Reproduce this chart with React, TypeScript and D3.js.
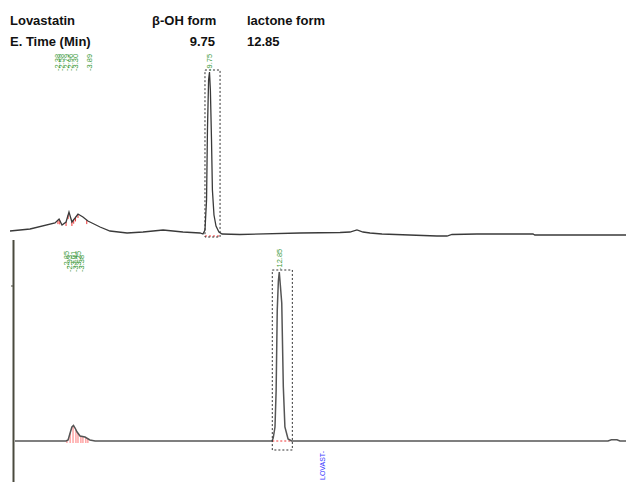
import React from 'react'
import * as d3 from 'd3'

// header table
const headerTitle = 'Lovastatin'
const headerRowLabel = 'E. Time (Min)'
const forms = ['β-OH form', 'lactone form']
const retentionTimes = [9.75, 12.85]

// trace 1 (β-OH form), time in min, signal in arbitrary units
const topTimes = [0.89, 1.78, 2.89, 3.07, 3.2, 3.38, 3.51, 3.64, 3.78, 3.91, 4.13, 4.35, 4.53, 4.89, 5.33, 6.09, 6.8, 7.69, 8.57, 9.33, 9.46, 9.55, 9.62, 9.66, 9.71, 9.75, 9.79, 9.84, 9.88, 9.95, 10.04, 10.17, 10.31, 11.1, 13.77, 15.55, 15.99, 16.3, 16.57, 16.88, 17.41, 19.85, 20.3, 20.52, 21.63, 24.12, 24.2, 28.25]
const topSignal = [5, 7, 13, 17, 11, 14, 24, 14, 18, 22, 19, 15, 13, 9, 5, 3, 4, 6, 4, 3, 2, 6, 36, 106, 156, 164, 146, 96, 46, 21, 10, 4, 2, 1.5, 3, 3.5, 4, 6, 4, 3, 2, 0, 0, 1.5, 2, 2, 1, 1]

// trace 2 (lactone form)
const bottomTimes = [1.11, 3.38, 3.47, 3.56, 3.64, 3.71, 3.78, 3.87, 4.0, 4.22, 4.44, 4.67, 12.53, 12.58, 12.66, 12.71, 12.76, 12.81, 12.85, 12.9, 12.96, 13.03, 13.1, 13.24, 13.4, 26.65, 27.45, 27.6, 27.85, 27.98, 28.25]
const bottomSignal = [0, 0, 1, 8, 14, 15.5, 13, 9, 5, 4, 1, 0, 0, 3, 14, 50, 131, 160, 169, 155, 138, 54, 14, 2, 0, 0, 0, 1.2, 1.2, 0, 0]

// integrated peak windows
const topWindow = [9.55, 10.22]
const bottomWindow = [12.54, 13.43]

// small peak labels
const topLabelTimes = [2.98, 3.16, 3.38, 3.56, 3.82, 4.4]
const topLabels = ['2.38', '2.58', '2.79', '2.96', '3.30', '3.89']
const bottomLabelTimes = [3.42, 3.55, 3.69, 3.82, 3.95, 4.08]
const bottomLabels = ['2.85', '2.93', '3.01', '3.14', '3.25', '3.38']
const topTickTimes = [3.02, 3.1, 3.38, 3.47, 3.64, 3.72, 3.8, 3.91, 4.3]
const bottomHatchTimes = [3.42, 3.56, 3.69, 3.82, 3.91, 4.04, 4.13, 4.26, 4.35]
const compoundLabel = 'LOVAST-'
const compoundTime = 14.79

const W = 626
const H = 482
const green = '#3a9a3a'

export default function App() {
  const x = d3.scaleLinear().domain([0.89, 28.25]).range([10, 626])
  const yTop = d3.scaleLinear().domain([0, 164]).range([236, 72])
  const yBot = d3.scaleLinear().domain([0, 169]).range([441, 272])

  const topPts: [number, number][] = topTimes.map((t, i) => [t, topSignal[i]])
  const botPts: [number, number][] = bottomTimes.map((t, i) => [t, bottomSignal[i]])
  const topLine = d3.line<[number, number]>().x(d => x(d[0])).y(d => yTop(d[1]))
  const botLine = d3.line<[number, number]>().x(d => x(d[0])).y(d => yBot(d[1]))
  const topAt = (t: number) => d3.scaleLinear().domain(topTimes).range(topSignal)(t)
  const botAt = (t: number) => d3.scaleLinear().domain(bottomTimes).range(bottomSignal)(t)

  const fontHead = '"Liberation Sans", Arial, sans-serif'
  const small = '"Liberation Sans", Arial, sans-serif'

  return (
    <svg width={W} height={H} style={{ position: 'absolute', left: 0, top: 0, background: '#fff' }}>
      {/* header */}
      <g fontFamily={fontHead} fontWeight="bold" fontSize={13} fill="#111">
        <text x={10} y={25}>{headerTitle}</text>
        <text x={10} y={46}>{headerRowLabel}</text>
        <text x={152} y={25}>{forms[0]}</text>
        <text x={247} y={25}>{forms[1]}</text>
        <text x={215} y={46} textAnchor="end">{retentionTimes[0].toFixed(2)}</text>
        <text x={247} y={46}>{retentionTimes[1].toFixed(2)}</text>
      </g>

      {/* top chromatogram */}
      <line x1={x(topWindow[0])} x2={x(topWindow[1])} y1={yTop(0)} y2={yTop(0)} stroke="#e33" strokeDasharray="2,2" strokeWidth={1} />
      {topTickTimes.map((t, i) => (
        <line key={i} x1={x(t)} x2={x(t)} y1={yTop(topAt(t))} y2={yTop(topAt(t)) + 4} stroke="#e33" strokeWidth={1} />
      ))}
      <path d={topLine(topPts) || ''} fill="none" stroke="#3a3a3a" strokeWidth={1.3} />
      <rect x={x(topWindow[0])} y={yTop(d3.max(topSignal)!) - 2} width={x(topWindow[1]) - x(topWindow[0])}
        height={yTop(0) - yTop(d3.max(topSignal)!) + 3} fill="none" stroke="#333" strokeDasharray="2,2" strokeWidth={1} />
      <g fontFamily={small} fontSize={7.5} fill={green}>
        {topLabelTimes.map((t, i) => (
          <text key={i} transform={`translate(${x(t) + 2.5},71) rotate(-90)`}>{'-' + topLabels[i]}</text>
        ))}
        <text transform={`translate(${x(retentionTimes[0]) + 2.5},71) rotate(-90)`}>{'-' + retentionTimes[0].toFixed(2)}</text>
        {bottomLabelTimes.map((t, i) => (
          <text key={i} transform={`translate(${x(t) + 2.5},${i % 2 ? 272 : 268}) rotate(-90)`}>{'-' + bottomLabels[i]}</text>
        ))}
        <text transform={`translate(${x(retentionTimes[1]) + 2.5},270) rotate(-90)`}>{'-' + retentionTimes[1].toFixed(2)}</text>
      </g>

      {/* bottom chromatogram */}
      <line x1={13.5} x2={13.5} y1={240} y2={H} stroke="#4a4a3e" strokeWidth={2} />
      <line x1={11} x2={13} y1={286} y2={286} stroke="#4a4a3e" strokeWidth={1} />
      {bottomHatchTimes.map((t, i) => (
        <line key={i} x1={x(t)} x2={x(t)} y1={yBot(botAt(t))} y2={yBot(0) + 2} stroke="#f55" strokeWidth={0.8} />
      ))}
      <line x1={x(bottomWindow[0])} x2={x(bottomWindow[1])} y1={yBot(0)} y2={yBot(0)} stroke="#e33" strokeDasharray="2,2" strokeWidth={1} />
      <path d={botLine(botPts) || ''} fill="none" stroke="#555" strokeWidth={1.5} />
      <rect x={x(bottomWindow[0])} y={yBot(d3.max(bottomSignal)!) - 2} width={x(bottomWindow[1]) - x(bottomWindow[0])}
        height={yBot(0) - yBot(d3.max(bottomSignal)!) + 11} fill="none" stroke="#333" strokeDasharray="2,2" strokeWidth={1} />
      <text transform={`translate(${x(compoundTime) + 2.5},480) rotate(-90)`} fontFamily={small} fontSize={7} fill="#3a3aff">{compoundLabel}</text>
    </svg>
  )
}
